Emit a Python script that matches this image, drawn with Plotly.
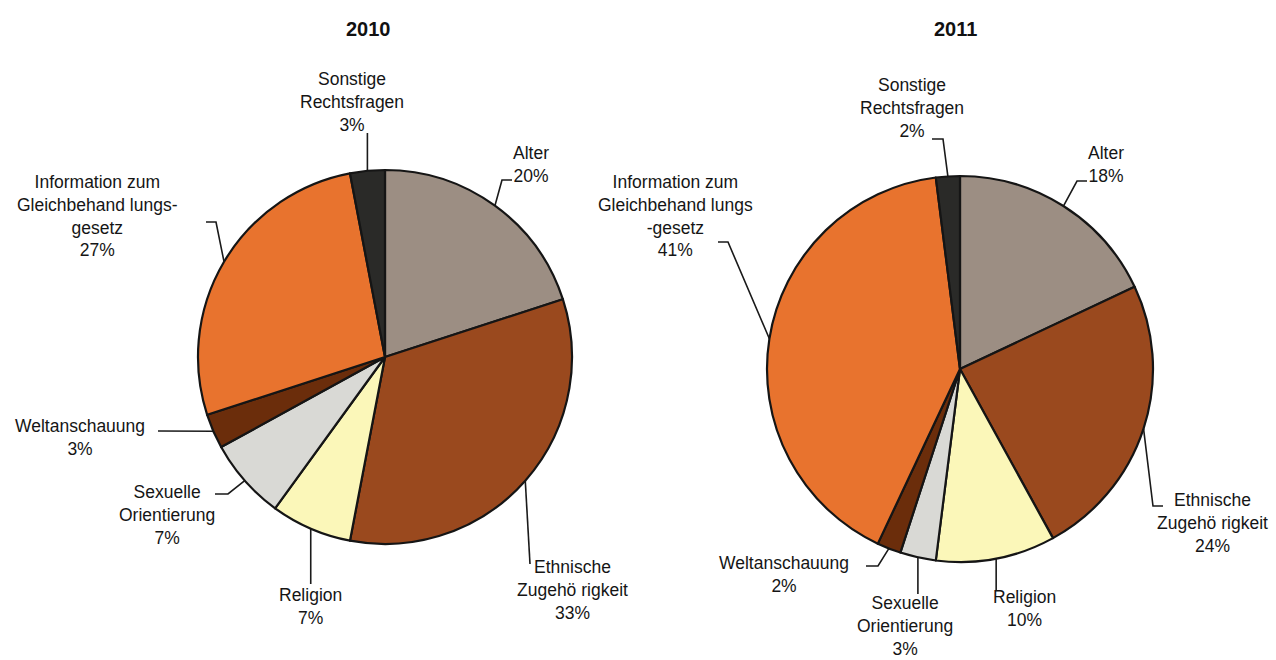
import math
import plotly.graph_objects as go

kategorien = ["Alter", "Ethnische Zugehörigkeit", "Religion", "Sexuelle Orientierung",
              "Weltanschauung", "Information zum Gleichbehandlungsgesetz", "Sonstige Rechtsfragen"]
werte_2010 = [20, 33, 7, 7, 3, 27, 3]
werte_2011 = [18, 24, 10, 3, 2, 41, 2]

# label texts as they are broken in the original
labels_2010 = ["Alter", "Ethnische<br>Zugehö rigkeit", "Religion", "Sexuelle<br>Orientierung",
               "Weltanschauung", "Information zum<br>Gleichbehand lungs-<br>gesetz",
               "Sonstige<br>Rechtsfragen"]
labels_2011 = ["Alter", "Ethnische<br>Zugehö rigkeit", "Religion", "Sexuelle<br>Orientierung",
               "Weltanschauung", "Information zum<br>Gleichbehand lungs<br>-gesetz",
               "Sonstige<br>Rechtsfragen"]

farben = ["#9c8e83", "#9a491e", "#fbf7b9", "#d9d9d5", "#6b2d0b", "#e8732e", "#2a2a28"]

W, H = 1276, 660
FONT = "Liberation Sans, Arial, sans-serif"

# pie geometry in pixels (centre x, centre y, radius)
pies = {
    "2010": dict(cx=385, cy=357, r=187, werte=werte_2010, labels=labels_2010, title_x=368),
    "2011": dict(cx=960, cy=369, r=193, werte=werte_2011, labels=labels_2011, title_x=955),
}

# label placement: text centre and leader points after the edge point
# (None in a point = keep the x of the edge point)
platz = {
    "2010": [
        dict(t=(531, 164), p=[(502, 180), (512, 180)]),
        dict(t=(572, 590), p=[(530, 564)]),
        dict(t=(310, 606), p=[(None, 584)]),
        dict(t=(167, 515), p=[(228, 494), (215, 494)]),
        dict(t=(80, 437), p=[(158, 431)]),
        dict(t=(97, 216), p=[(216, 222), (206, 222)]),
        dict(t=(352, 102), p=[(None, 133)]),
    ],
    "2011": [
        dict(t=(1106, 164), p=[(1077, 181), (1087, 181)]),
        dict(t=(1212, 523), p=[(1153, 506), (1163, 506)]),
        dict(t=(1024, 608), p=[(None, 590)]),
        dict(t=(905, 626), p=[(None, 594)]),
        dict(t=(784, 574), p=[(878, 566), (866, 566)]),
        dict(t=(675, 216), p=[(728, 242), (718, 242)]),
        dict(t=(912, 108), p=[(943, 139), (932, 139)]),
    ],
}

fig = go.Figure()

for jahr, pie in pies.items():
    cx, cy, r = pie["cx"], pie["cy"], pie["r"]
    fig.add_trace(go.Pie(
        labels=kategorien,
        values=pie["werte"],
        sort=False,
        direction="clockwise",
        rotation=0,
        textinfo="none",
        hoverinfo="label+percent",
        marker=dict(colors=farben, line=dict(color="#151515", width=2.2)),
        domain=dict(x=[(cx - r) / W, (cx + r) / W], y=[1 - (cy + r) / H, 1 - (cy - r) / H]),
        showlegend=False,
    ))

    fig.add_annotation(x=pie["title_x"], y=29, xref="x", yref="y", text=f"<b>{jahr}</b>",
                       showarrow=False, font=dict(size=20, color="#111", family=FONT))

    gesamt = sum(pie["werte"])
    kum = 0
    for wert, text, pl in zip(pie["werte"], pie["labels"], platz[jahr]):
        mitte = (kum + wert / 2) / gesamt * 2 * math.pi
        kum += wert
        ex, ey = cx + r * math.sin(mitte), cy - r * math.cos(mitte)
        xs, ys = [ex], [ey]
        for px, py in pl["p"]:
            xs.append(ex if px is None else px)
            ys.append(py)
        fig.add_trace(go.Scatter(x=xs, y=ys, mode="lines", line=dict(color="#1a1a1a", width=1.6),
                                 hoverinfo="skip", showlegend=False))
        prozent = round(wert / gesamt * 100)
        fig.add_annotation(x=pl["t"][0], y=pl["t"][1], xref="x", yref="y",
                           text=f"{text}<br>{prozent}%", showarrow=False,
                           font=dict(size=17.5, color="#151515", family=FONT))

fig.update_layout(
    width=W, height=H,
    paper_bgcolor="white", plot_bgcolor="rgba(0,0,0,0)",
    margin=dict(l=0, r=0, t=0, b=0),
    xaxis=dict(range=[0, W], visible=False, fixedrange=True),
    yaxis=dict(range=[H, 0], visible=False, fixedrange=True),
)

fig.write_html("out.html", config={"displayModeBar": False},
               post_script="document.body.style.margin='0';")
